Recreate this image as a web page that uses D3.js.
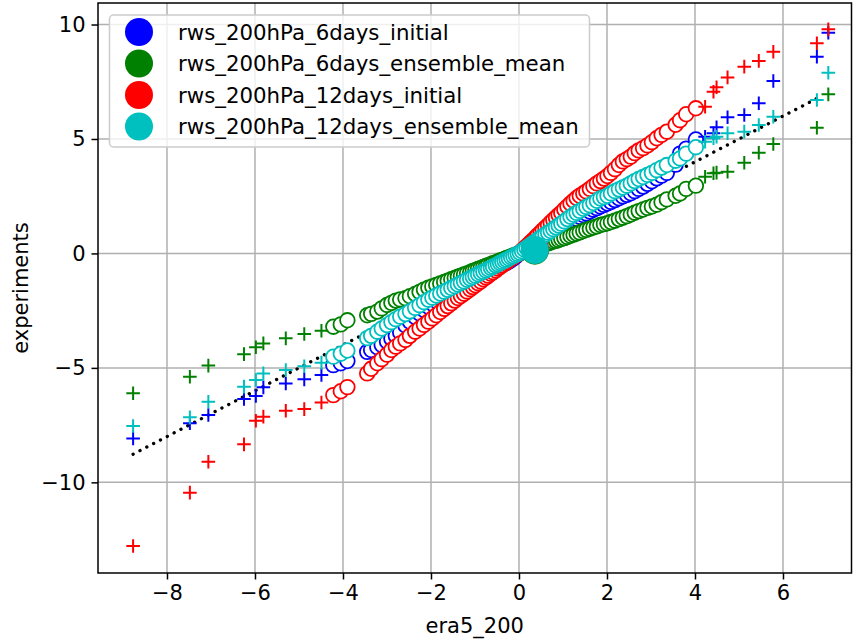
<!DOCTYPE html>
<html><head><meta charset="utf-8">
<script src="https://cdn.jsdelivr.net/npm/d3@7"></script>
<style>html,body{margin:0;padding:0;background:#fff;}svg{display:block;font-family:"DejaVu Sans",sans-serif;}</style>
</head><body><svg id="c" width="853" height="641"></svg>
<script>
// era5 percentiles (1..99)
const quantX = [-4.22,-4.05,-3.90,-3.45,-3.36,-3.22,-3.12,-3.00,-2.90,-2.80,-2.70,-2.58,-2.48,-2.36,-2.26,-2.16,-2.06,-1.97,-1.88,-1.79,-1.70,-1.62,-1.54,-1.46,-1.39,-1.32,-1.25,-1.18,-1.11,-1.05,-0.99,-0.93,-0.87,-0.81,-0.75,-0.70,-0.64,-0.59,-0.53,-0.48,-0.43,-0.38,-0.33,-0.28,-0.23,-0.18,-0.13,-0.08,-0.03,0.02,0.07,0.12,0.17,0.22,0.27,0.32,0.38,0.43,0.49,0.54,0.60,0.66,0.72,0.78,0.84,0.90,0.96,1.03,1.10,1.17,1.24,1.31,1.38,1.46,1.53,1.61,1.69,1.77,1.85,1.93,2.01,2.09,2.18,2.27,2.36,2.45,2.54,2.63,2.72,2.82,2.92,3.02,3.13,3.24,3.36,3.56,3.66,3.80,4.02];
const blueY = [-4.88,-4.80,-4.70,-4.30,-4.22,-4.10,-4.00,-3.85,-3.72,-3.60,-3.45,-3.15,-2.98,-2.78,-2.62,-2.47,-2.33,-2.20,-2.08,-1.96,-1.85,-1.75,-1.66,-1.57,-1.49,-1.41,-1.33,-1.26,-1.18,-1.12,-1.05,-0.99,-0.93,-0.87,-0.81,-0.76,-0.71,-0.66,-0.61,-0.57,-0.53,-0.49,-0.45,-0.40,-0.35,-0.29,-0.22,-0.14,-0.06,0.03,0.08,0.14,0.20,0.26,0.32,0.38,0.45,0.51,0.58,0.64,0.71,0.78,0.85,0.92,0.99,1.06,1.13,1.21,1.29,1.37,1.45,1.52,1.60,1.68,1.75,1.83,1.91,1.98,2.05,2.12,2.18,2.25,2.33,2.41,2.49,2.56,2.63,2.72,2.82,2.92,3.04,3.15,3.28,3.40,3.52,3.88,4.36,4.58,4.98];
const greenY = [-3.20,-3.10,-2.92,-2.70,-2.64,-2.54,-2.40,-2.25,-2.16,-2.06,-2.01,-1.96,-1.87,-1.77,-1.68,-1.58,-1.50,-1.44,-1.38,-1.31,-1.25,-1.19,-1.13,-1.07,-1.02,-0.97,-0.92,-0.87,-0.82,-0.77,-0.73,-0.68,-0.64,-0.59,-0.55,-0.51,-0.47,-0.43,-0.39,-0.35,-0.31,-0.28,-0.24,-0.20,-0.17,-0.13,-0.09,-0.06,-0.02,0.01,0.05,0.09,0.12,0.15,0.19,0.22,0.26,0.29,0.33,0.36,0.40,0.44,0.48,0.52,0.55,0.59,0.63,0.67,0.72,0.77,0.82,0.87,0.92,0.98,1.03,1.08,1.13,1.18,1.24,1.28,1.32,1.37,1.43,1.50,1.56,1.63,1.70,1.78,1.85,1.92,1.99,2.05,2.13,2.24,2.36,2.52,2.62,2.82,2.96];
const redY = [-6.19,-6.02,-5.84,-5.24,-5.04,-4.80,-4.62,-4.42,-4.22,-4.07,-3.93,-3.78,-3.60,-3.42,-3.28,-3.12,-2.98,-2.84,-2.70,-2.56,-2.42,-2.30,-2.18,-2.06,-1.95,-1.86,-1.76,-1.66,-1.56,-1.47,-1.39,-1.30,-1.22,-1.13,-1.05,-0.97,-0.89,-0.82,-0.74,-0.66,-0.59,-0.52,-0.45,-0.38,-0.31,-0.24,-0.17,-0.10,-0.03,0.04,0.13,0.22,0.31,0.40,0.50,0.59,0.70,0.80,0.91,1.01,1.12,1.23,1.35,1.46,1.57,1.68,1.78,1.92,2.05,2.18,2.30,2.42,2.52,2.62,2.71,2.82,2.94,3.06,3.16,3.27,3.38,3.52,3.68,3.86,4.02,4.12,4.23,4.38,4.50,4.60,4.72,4.86,5.03,5.18,5.32,5.62,5.82,6.08,6.34];
const cyanY = [-4.51,-4.38,-4.24,-3.70,-3.60,-3.42,-3.28,-3.13,-3.00,-2.87,-2.76,-2.65,-2.53,-2.38,-2.26,-2.13,-2.02,-1.93,-1.84,-1.75,-1.67,-1.59,-1.51,-1.43,-1.36,-1.29,-1.22,-1.15,-1.09,-1.03,-0.97,-0.91,-0.85,-0.80,-0.74,-0.69,-0.63,-0.58,-0.52,-0.47,-0.42,-0.37,-0.32,-0.27,-0.22,-0.17,-0.12,-0.07,-0.02,0.03,0.10,0.17,0.24,0.31,0.38,0.45,0.53,0.60,0.68,0.75,0.83,0.91,0.98,1.06,1.14,1.22,1.30,1.40,1.50,1.60,1.69,1.77,1.86,1.95,2.03,2.11,2.20,2.30,2.40,2.46,2.52,2.62,2.72,2.80,2.88,2.96,3.06,3.16,3.25,3.34,3.43,3.52,3.64,3.75,3.86,4.05,4.15,4.36,4.64];

// extreme quantiles (0.1..0.9 % and 99.1..99.9 %)
const tailX = [-8.77,-7.48,-7.06,-6.25,-5.98,-5.81,-5.30,-4.88,-4.49,4.23,4.42,4.49,4.74,5.12,5.45,5.78,6.77,7.03];
const blueTail = [-8.08,-7.42,-7.06,-6.36,-6.23,-5.85,-5.68,-5.50,-5.31,5.10,5.25,5.51,5.95,6.05,6.56,7.53,8.59,9.64];
const greenTail = [-6.11,-5.39,-4.90,-4.40,-4.10,-3.93,-3.71,-3.52,-3.38,3.35,3.50,3.53,3.57,3.96,4.40,4.78,5.49,6.95];
const redTail = [-12.78,-10.45,-9.10,-8.34,-7.31,-7.13,-6.87,-6.80,-6.51,6.41,7.06,7.26,7.69,8.16,8.41,8.81,9.18,9.79];
const cyanTail = [-7.54,-7.16,-6.48,-5.82,-5.53,-5.24,-5.09,-4.93,-4.77,4.88,5.03,5.10,5.25,5.32,5.61,5.97,6.70,7.89];

// central marker
const centerX = 0.36;
const centerY = [0.18, 0.12, 0.24, 0.15];

const seriesNames = ["rws_200hPa_6days_initial","rws_200hPa_6days_ensemble_mean","rws_200hPa_12days_initial","rws_200hPa_12days_ensemble_mean"];
const seriesColors = ["#0000ff","#008000","#ff0000","#00bfbf"];
const seriesY = [blueY, greenY, redY, cyanY];
const seriesTail = [blueTail, greenTail, redTail, cyanTail];

const refLineX = [-8.77, 6.89];
const xTicks = [-8,-6,-4,-2,0,2,4,6];
const yTicks = [-10,-5,0,5,10];

const L = 98, R = 851.5, T = 3, B = 573;
const FS = 21;
const x = d3.scaleLinear().domain([-9.568, 7.546]).range([L, L + 17.114*44]);
const y = d3.scaleLinear().domain([-13.96, 10.94]).range([B, T]);

const svg = d3.select("#c");

// grid
const g = svg.append("g");
g.selectAll(".gx").data(xTicks).join("line")
  .attr("x1", d => x(d)).attr("x2", d => x(d)).attr("y1", T).attr("y2", B)
  .attr("stroke", "#b0b0b0").attr("stroke-width", 1.5);
g.selectAll(".gy").data(yTicks).join("line")
  .attr("y1", d => y(d)).attr("y2", d => y(d)).attr("x1", L).attr("x2", R)
  .attr("stroke", "#b0b0b0").attr("stroke-width", 1.5);

// reference line
svg.append("line")
  .attr("x1", x(refLineX[0])).attr("y1", y(refLineX[0]))
  .attr("x2", x(refLineX[1])).attr("y2", y(refLineX[1]))
  .attr("stroke", "#000").attr("stroke-width", 3.3)
  .attr("stroke-dasharray", "0.1 7.6").attr("stroke-linecap", "round");

// series
seriesNames.forEach((name, i) => {
  const col = seriesColors[i];
  const sg = svg.append("g");
  sg.selectAll("circle").data(quantX).join("circle")
    .attr("cx", d => x(d)).attr("cy", (d, j) => y(seriesY[i][j]))
    .attr("r", 7.3).attr("fill", "#fff").attr("stroke", col).attr("stroke-width", 1.8);
  const pg = sg.append("g");
  tailX.forEach((tx, j) => {
    const cx = x(tx), cy = y(seriesTail[i][j]);
    pg.append("path").attr("d", `M${cx-6.8},${cy}H${cx+6.8}M${cx},${cy-6.8}V${cy+6.8}`)
      .attr("stroke", col).attr("stroke-width", 2).attr("fill", "none");
  });
  sg.append("circle").attr("cx", x(centerX)).attr("cy", y(centerY[i]))
    .attr("r", 14).attr("fill", col);
});

// axes
const xa = svg.append("g").attr("transform", `translate(0,${B})`)
  .call(d3.axisBottom(x).tickValues(xTicks).tickSizeOuter(0).tickSize(6.5).tickPadding(6));
const ya = svg.append("g").attr("transform", `translate(${L},0)`)
  .call(d3.axisLeft(y).tickValues(yTicks).tickSizeOuter(0).tickSize(6.5).tickPadding(6));
[xa, ya].forEach(a => {
  a.select(".domain").remove();
  a.selectAll("line").attr("stroke", "#000").attr("stroke-width", 1.5);
  a.selectAll("text").attr("font-size", FS).attr("font-family", "DejaVu Sans").attr("fill", "#000");
});
// spines
svg.append("rect").attr("x", L).attr("y", T).attr("width", R - L).attr("height", B - T)
  .attr("fill", "none").attr("stroke", "#000").attr("stroke-width", 1.5);

// labels
svg.append("text").attr("x", (L + R) / 2).attr("y", 633).attr("text-anchor", "middle")
  .attr("font-size", FS).text("era5_200");
svg.append("text").attr("transform", `translate(28,${(T + B) / 2}) rotate(-90)`)
  .attr("text-anchor", "middle").attr("font-size", FS).text("experiments");

// legend
const lg = svg.append("g");
lg.append("rect").attr("x", 109.5).attr("y", 15).attr("width", 480).attr("height", 132)
  .attr("rx", 4).attr("fill", "#fff").attr("fill-opacity", 0.8)
  .attr("stroke", "#cccccc").attr("stroke-width", 1.5);
seriesNames.forEach((name, i) => {
  const cy = 32 + i * 31.5;
  lg.append("circle").attr("cx", 139).attr("cy", cy).attr("r", 14).attr("fill", seriesColors[i]);
  lg.append("text").attr("x", 178).attr("y", cy + 7.5).attr("font-size", 21.3).text(name);
});
</script></body></html>
